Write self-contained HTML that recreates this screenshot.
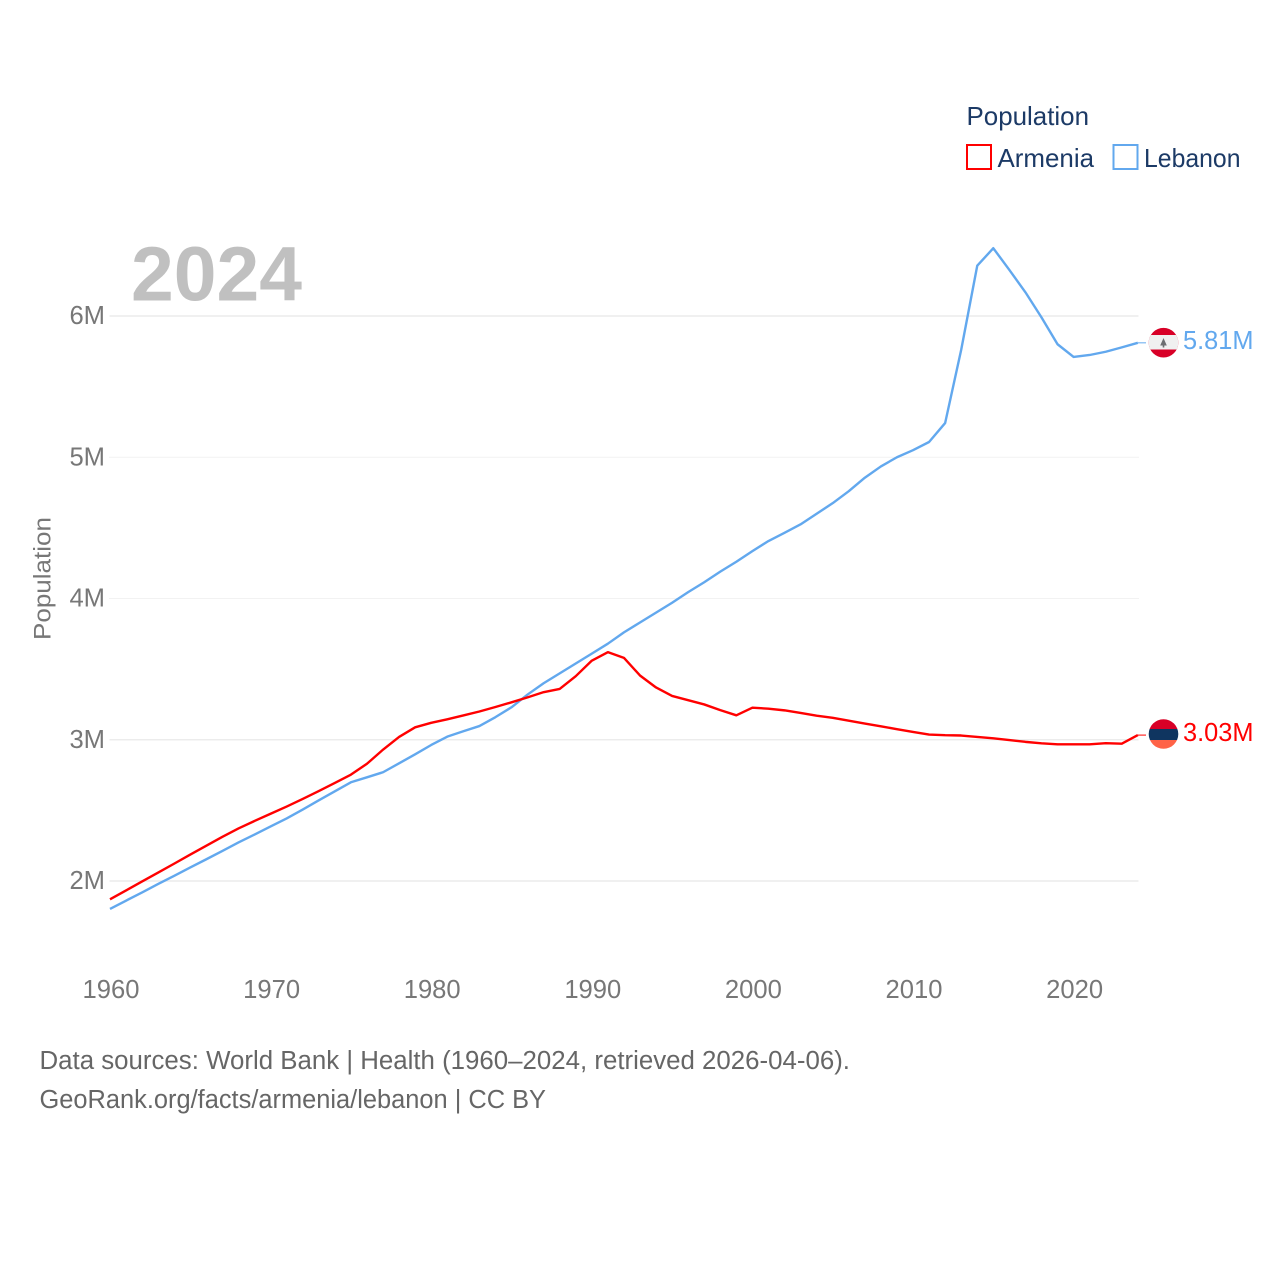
<!DOCTYPE html>
<html lang="en">
<head>
<meta charset="utf-8">
<title>Population: Armenia and Lebanon</title>
<style>
html,body{margin:0;padding:0;background:#fff;width:1280px;height:1280px;overflow:hidden}
svg{display:block}
text{font-family:"Liberation Sans",sans-serif}
</style>
</head>
<body>
<svg id="chart" width="1280" height="1280" viewBox="0 0 1280 1280" xmlns="http://www.w3.org/2000/svg">
  <g id="grid"></g>
  <g id="yticks"></g>
  <g id="xticks"></g>
  <text x="131" y="300.500" font-size="77" font-weight="700" fill="#c0c0c0" textLength="171" lengthAdjust="spacingAndGlyphs">2024</text>
  <text transform="translate(50.500,640) rotate(-90)" font-size="24.500" fill="#777" textLength="123" lengthAdjust="spacingAndGlyphs">Population</text>
  <g id="series"></g>

  <g>
    <text x="966.500" y="125" font-size="26" fill="#1c3a66" textLength="122.500" lengthAdjust="spacingAndGlyphs">Population</text>
    <rect x="967" y="145" width="24" height="24" fill="none" stroke="#ff0000" stroke-width="2"></rect>
    <text x="997.500" y="167" font-size="26" fill="#1c3a66" textLength="96.500" lengthAdjust="spacingAndGlyphs">Armenia</text>
    <rect x="1113.500" y="145" width="24" height="24" fill="none" stroke="#62a8ee" stroke-width="2"></rect>
    <text x="1144" y="167" font-size="26" fill="#1c3a66" textLength="96.500" lengthAdjust="spacingAndGlyphs">Lebanon</text>
  </g>

  <defs>
    <clipPath id="flag-clip-lb"><circle id="clip-lb" cx="1163.500" cy="342.700" r="14.800"></circle></clipPath>
    <clipPath id="flag-clip-am"><circle id="clip-am" cx="1163.500" cy="734" r="14.800"></circle></clipPath>
  </defs>
  <g clip-path="url(#flag-clip-lb)">
    <rect x="1148" y="327" width="31" height="32" fill="#d80027"></rect>
    <rect x="1148" y="335" width="31" height="14.500" fill="#f0f0f0"></rect>
    <polygon points="1163.500,338 1166.800,345.500 1164.300,345.500 1164.300,347.500 1162.700,347.500 1162.700,345.500 1160.200,345.500" fill="#6d6e71"></polygon>
  </g>
  <g clip-path="url(#flag-clip-am)">
    <rect x="1148" y="719" width="31" height="10" fill="#d80027"></rect>
    <rect x="1148" y="729" width="31" height="11" fill="#0f3560"></rect>
    <rect x="1148" y="740" width="31" height="10" fill="#ff6347"></rect>
  </g>
  <text id="label-lb" x="1183" y="349" font-size="25.500" fill="#62a8ee" textLength="70.500" lengthAdjust="spacingAndGlyphs">5.81M</text>
  <text id="label-am" x="1183" y="741" font-size="25.500" fill="#ff0000" textLength="70.500" lengthAdjust="spacingAndGlyphs">3.03M</text>

  <text x="39.500" y="1069" font-size="25.500" fill="#666" textLength="810.500" lengthAdjust="spacingAndGlyphs">Data sources: World Bank | Health (1960–2024, retrieved 2026-04-06).</text>
  <text x="39.500" y="1108" font-size="25.500" fill="#666" textLength="506.500" lengthAdjust="spacingAndGlyphs">GeoRank.org/facts/armenia/lebanon | CC BY</text>
</svg>
<script>
const years = [1960,1961,1962,1963,1964,1965,1966,1967,1968,1969,1970,1971,1972,1973,1974,1975,1976,1977,1978,1979,1980,1981,1982,1983,1984,1985,1986,1987,1988,1989,1990,1991,1992,1993,1994,1995,1996,1997,1998,1999,2000,2001,2002,2003,2004,2005,2006,2007,2008,2009,2010,2011,2012,2013,2014,2015,2016,2017,2018,2019,2020,2021,2022,2023,2024];
const armenia = [1.870,1.933,1.997,2.060,2.123,2.187,2.250,2.313,2.372,2.425,2.476,2.527,2.581,2.637,2.694,2.753,2.830,2.930,3.020,3.088,3.120,3.145,3.172,3.200,3.232,3.265,3.300,3.337,3.360,3.450,3.560,3.620,3.580,3.455,3.370,3.310,3.280,3.250,3.210,3.173,3.227,3.220,3.208,3.190,3.170,3.155,3.135,3.115,3.095,3.075,3.055,3.037,3.032,3.030,3.020,3.010,2.998,2.985,2.975,2.968,2.968,2.968,2.976,2.972,3.033];
const lebanon = [1.802,1.861,1.919,1.979,2.037,2.096,2.154,2.213,2.273,2.329,2.386,2.443,2.506,2.571,2.635,2.699,2.734,2.770,2.833,2.897,2.963,3.022,3.060,3.097,3.160,3.230,3.320,3.400,3.470,3.540,3.610,3.680,3.760,3.830,3.900,3.970,4.045,4.115,4.190,4.260,4.335,4.407,4.465,4.525,4.600,4.675,4.760,4.855,4.935,5.000,5.050,5.108,5.242,5.760,6.356,6.480,6.326,6.168,5.990,5.800,5.710,5.724,5.747,5.778,5.810];
const yTickValues = [2,3,4,5,6];
const yTickLabels = ["2M","3M","4M","5M","6M"];
const xTickValues = [1960,1970,1980,1990,2000,2010,2020];

const NS = "http://www.w3.org/2000/svg";
function xScale(year){ return 110 + (year - 1960) * 16.06; }
function yScale(v){ return 881 - (v - 2) * 141.25; }
function make(tag, attrs, parent){
  const el = document.createElementNS(NS, tag);
  for (const k in attrs) el.setAttribute(k, attrs[k]);
  parent.appendChild(el);
  return el;
}
const grid = document.getElementById("grid");
const yticks = document.getElementById("yticks");
const xticks = document.getElementById("xticks");
const seriesGroup = document.getElementById("series");

yTickValues.forEach(function(v, i){
  const faint = v === 4 || v === 5;
  const line = make("line", {x1:109.5, x2:1138.5, y1:yScale(v), y2:yScale(v), stroke: faint ? "#e4e4e4" : "#ececec", "stroke-width": faint ? 1 : 1.6, "stroke-dasharray": faint ? "1 1" : "none"}, grid);
  
  
  const t = make("text", {x:105, y:yScale(v)+8, "text-anchor":"end", "font-size":25.6, fill:"#777"}, yticks);
  
  
  t.textContent = yTickLabels[i];
});
xTickValues.forEach(function(y){
  const t = make("text", {x:xScale(y)+1, y:998, "text-anchor":"middle", "font-size":25.6, fill:"#777"}, xticks);
  
  
  t.textContent = String(y);
});
function pathFor(values){
  return values.map(function(v, i){
    return (i ? "L" : "M") + xScale(years[i]).toFixed(2) + " " + yScale(v).toFixed(2);
  }).join(" ");
}
const lebanonLine = make("path", {d:pathFor(lebanon), fill:"none", stroke:"#62a8ee", "stroke-width":2.4, "stroke-linejoin":"round"}, seriesGroup);


const armeniaLine = make("path", {d:pathFor(armenia), fill:"none", stroke:"#ff0000", "stroke-width":2.4, "stroke-linejoin":"round"}, seriesGroup);



const lastIndex = years.length - 1;
const lebanonStub = make("line", {x1:xScale(years[lastIndex]), x2:1146, y1:yScale(lebanon[lastIndex]), y2:yScale(lebanon[lastIndex]), stroke:"#62a8ee", "stroke-width":1}, seriesGroup);


const armeniaStub = make("line", {x1:xScale(years[lastIndex]), x2:1146, y1:yScale(armenia[lastIndex]), y2:yScale(armenia[lastIndex]), stroke:"#ff0000", "stroke-width":1}, seriesGroup);


</script>
</body>
</html>
